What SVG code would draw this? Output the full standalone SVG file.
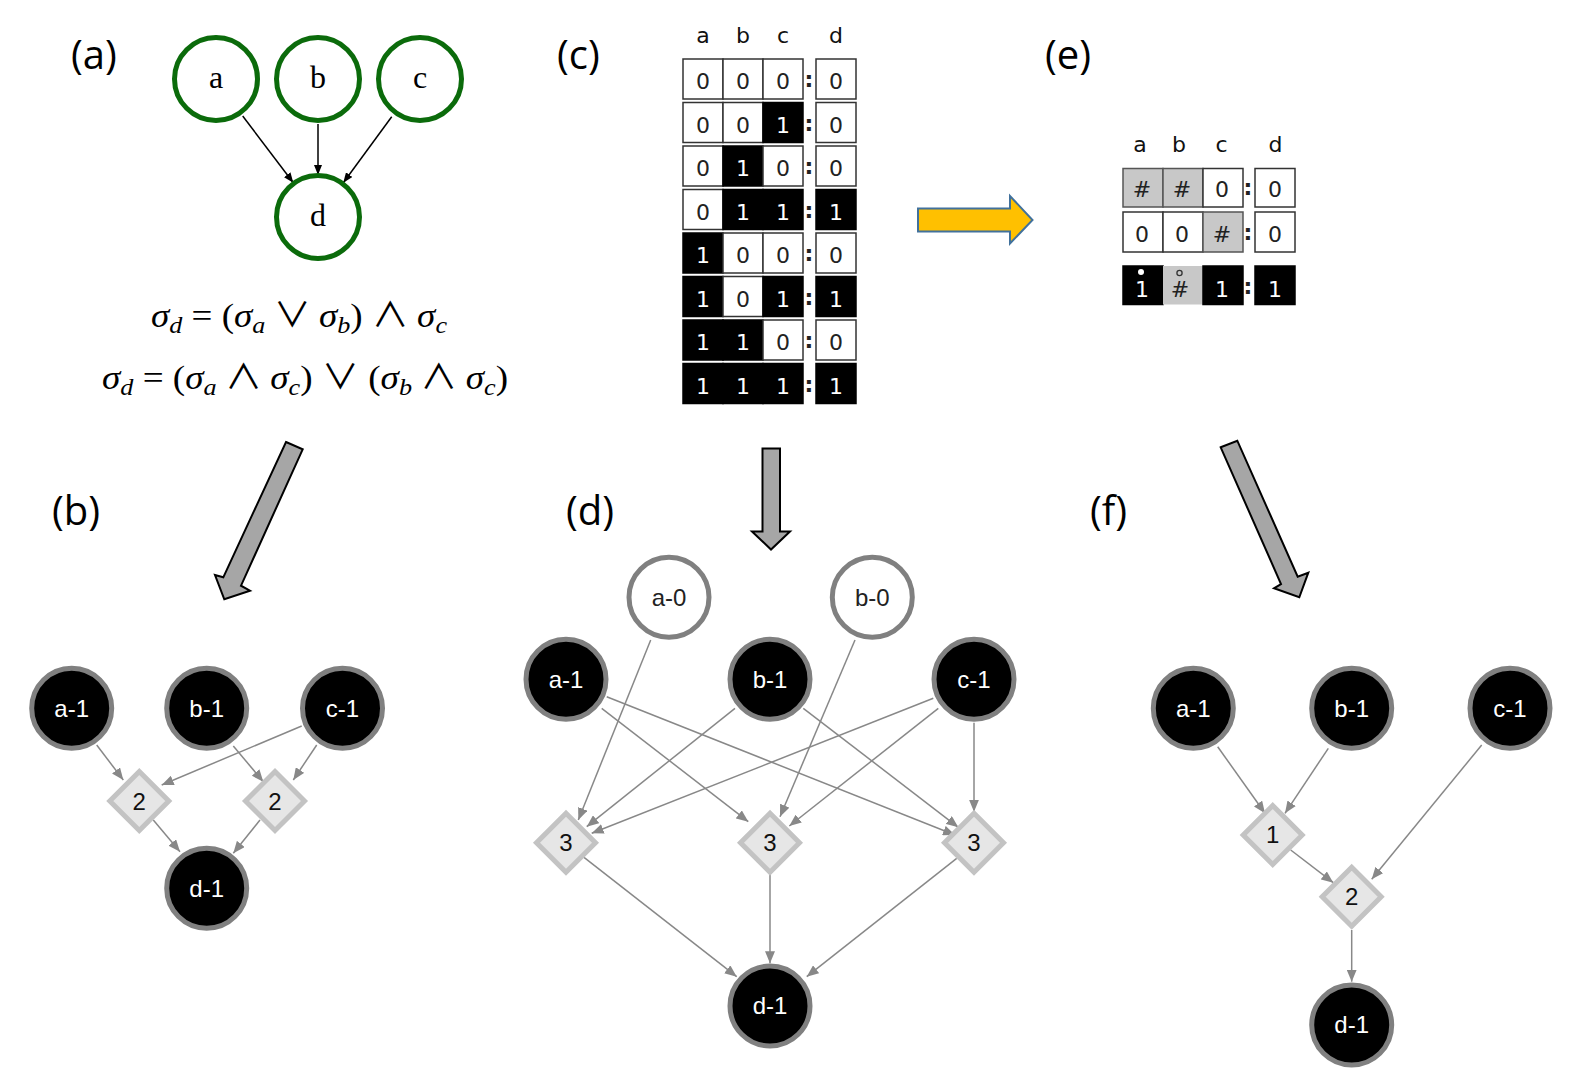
<svg xmlns="http://www.w3.org/2000/svg" width="1577" height="1081" viewBox="0 0 1577 1081">
<style>
.lbl{font-family:"Open Sans","Liberation Sans",sans-serif;font-size:40px;fill:#000}
.gn{fill:#000;stroke:#808080;stroke-width:5}
.wn{fill:#fff;stroke:#808080;stroke-width:5}
.gt{font-family:"Liberation Sans",Arial,sans-serif;font-size:24px;fill:#fff;text-anchor:middle}
.wt{font-family:"Liberation Sans",Arial,sans-serif;font-size:24px;fill:#222;text-anchor:middle}
.dia{fill:#e6e6e6;stroke:#c3c3c3;stroke-width:5}
.dt{font-family:"Liberation Sans",Arial,sans-serif;font-size:24px;fill:#111;text-anchor:middle}
.e{stroke:#888;stroke-width:1.5;fill:none;marker-end:url(#ah)}
.ea{stroke:#000;stroke-width:1.5;fill:none;marker-end:url(#ahk)}
.gc{fill:#fff;stroke:#0b6b0b;stroke-width:5}
.gct{font-family:"Liberation Serif","Times New Roman",serif;font-size:32px;text-anchor:middle;fill:#000}
.m{font-family:"Liberation Serif","DejaVu Serif",serif;font-size:34px;fill:#000}
.i{font-style:italic}
.s{font-style:italic;font-size:24px}
.op{font-family:"Noto Sans CJK SC","DejaVu Serif",serif;font-weight:400}
.cw{fill:#fff;stroke:#333;stroke-width:1.5}
.cb{fill:#000;stroke:#000;stroke-width:1.5}
.cg{fill:#c8c8c8;stroke:#555;stroke-width:1.5}
.tt{font-family:"DejaVu Sans",sans-serif;font-size:22px;text-anchor:middle}
.tw{fill:#fff}
.tk{fill:#222}
.hd{font-family:"DejaVu Sans",sans-serif;font-size:22px;text-anchor:middle;fill:#111}
.col{font-family:"DejaVu Sans",sans-serif;font-size:22px;font-weight:bold;text-anchor:middle;fill:#222}
.big{fill:#a6a6a6;stroke:#000;stroke-width:2;stroke-linejoin:miter}
</style>
<defs>
<marker id="ah" markerUnits="userSpaceOnUse" markerWidth="12" markerHeight="10" refX="12" refY="5" orient="auto"><path d="M0,0 L12,5 L0,10 z" fill="#888"/></marker>
<marker id="ahk" markerUnits="userSpaceOnUse" markerWidth="10" markerHeight="8" refX="10" refY="4" orient="auto"><path d="M0,0 L10,4 L0,8 z" fill="#000"/></marker>
<polygon id="dia" class="dia" points="0,-29.5 29.5,0 0,29.5 -29.5,0"/>
</defs>

<g id="panel-labels">
<text class="lbl" x="71" y="69">(a)</text>
<text class="lbl" x="557" y="69">(c)</text>
<text class="lbl" x="1045" y="69">(e)</text>
<text class="lbl" x="52" y="525">(b)</text>
<text class="lbl" x="566" y="525">(d)</text>
<text class="lbl" x="1090" y="525">(f)</text>
</g>

<g id="connectors">
<path class="ea" d="M242.7,116 L293.3,182.7"/>
<path class="ea" d="M318,124 L318,175"/>
<path class="ea" d="M391.7,116.7 L343.3,182.7"/>

<path class="e" d="M96.7,745 L123.3,780"/>
<path class="e" d="M301.7,726 L161.7,785"/>
<path class="e" d="M233.3,746 L263.3,781.7"/>
<path class="e" d="M316.7,745 L293.3,780"/>
<path class="e" d="M153.3,820 L180,851.7"/>
<path class="e" d="M260,820 L233.3,853.3"/>

<path class="e" d="M650.7,640 L578.3,820"/>
<path class="e" d="M601.7,708.3 L748.3,821.7"/>
<path class="e" d="M606.7,696.7 L955,835"/>
<path class="e" d="M735,708.3 L586.7,826.7"/>
<path class="e" d="M803.3,708.3 L958.3,827.3"/>
<path class="e" d="M855,640 L780,816.7"/>
<path class="e" d="M933.3,698.3 L591.7,833.3"/>
<path class="e" d="M938.3,708.3 L789.3,826"/>
<path class="e" d="M974,722.7 L974,811.7"/>
<path class="e" d="M584,857.3 L736.7,976.7"/>
<path class="e" d="M770,873.3 L770,963.3"/>
<path class="e" d="M956.7,858.3 L806.7,976.7"/>

<path class="e" d="M1217.7,746.7 L1265,813.3"/>
<path class="e" d="M1328.3,748.3 L1285,813.3"/>
<path class="e" d="M1481.7,745 L1371.7,879.3"/>
<path class="e" d="M1290.7,850 L1333.3,882.7"/>
<path class="e" d="M1351.7,930 L1351.7,981.7"/>
</g>

<g id="big-arrows">
<polygon class="big" points="286,442 302.7,449.3 241,585.7 250,590.7 224.3,599.3 215,575 223.3,577.3"/>
<polygon class="big" points="762.5,448.5 780,448.5 780,531.5 790,531.5 771,549.5 752,531.5 762.5,531.5"/>
<polygon class="big" points="1220.7,447.3 1237.3,440.7 1297.7,576.7 1308.3,572.7 1299.3,597.3 1274,588.3 1281,584"/>
<polygon points="918,208.5 1010,208.5 1010,196 1032.5,220 1010,243.5 1010,231.5 918,231.5" fill="#ffc000" stroke="#41719c" stroke-width="2"/>
</g>

<g id="a-a"><circle class="gc" cx="216" cy="79" r="41.5"/><text class="gct" x="216" y="88">a</text></g>
<g id="a-b"><circle class="gc" cx="318" cy="79" r="41.5"/><text class="gct" x="318" y="88">b</text></g>
<g id="a-c"><circle class="gc" cx="420" cy="79" r="41.5"/><text class="gct" x="420" y="88">c</text></g>
<g id="a-d"><circle class="gc" cx="318" cy="217" r="41.5"/><text class="gct" x="318" y="226">d</text></g>

<g id="formulas">
<text class="m" x="151" y="327" textLength="296" lengthAdjust="spacingAndGlyphs"><tspan class="i">σ</tspan><tspan class="s" dy="6">d</tspan><tspan dy="-6"> = (</tspan><tspan class="i">σ</tspan><tspan class="s" dy="6">a</tspan><tspan dy="-6" class="op"> ∨ </tspan><tspan class="i">σ</tspan><tspan class="s" dy="6">b</tspan><tspan dy="-6">) </tspan><tspan class="op">∧ </tspan><tspan class="i">σ</tspan><tspan class="s" dy="6">c</tspan></text>
<text class="m" x="102" y="389" textLength="406" lengthAdjust="spacingAndGlyphs"><tspan class="i">σ</tspan><tspan class="s" dy="6">d</tspan><tspan dy="-6"> = (</tspan><tspan class="i">σ</tspan><tspan class="s" dy="6">a</tspan><tspan dy="-6" class="op"> ∧ </tspan><tspan class="i">σ</tspan><tspan class="s" dy="6">c</tspan><tspan dy="-6">) </tspan><tspan class="op">∨</tspan><tspan> (</tspan><tspan class="i">σ</tspan><tspan class="s" dy="6">b</tspan><tspan dy="-6" class="op"> ∧ </tspan><tspan class="i">σ</tspan><tspan class="s" dy="6">c</tspan><tspan dy="-6">)</tspan></text>
</g>

<g id="table-c">
<text class="hd" x="703" y="43">a</text><text class="hd" x="743" y="43">b</text><text class="hd" x="783" y="43">c</text><text class="hd" x="836" y="43">d</text>
<g transform="translate(0,59)">
<rect class="cw" x="683" y="0" width="40" height="40"/><rect class="cw" x="723" y="0" width="40" height="40"/><rect class="cw" x="763" y="0" width="40" height="40"/><rect class="cw" x="816" y="0" width="40" height="40"/>
<text class="tt tk" x="703" y="30">0</text><text class="tt tk" x="743" y="30">0</text><text class="tt tk" x="783" y="30">0</text><text class="col" x="809" y="28">:</text><text class="tt tk" x="836" y="30">0</text>
</g>
<g transform="translate(0,102.5)">
<rect class="cw" x="683" y="0" width="40" height="40"/><rect class="cw" x="723" y="0" width="40" height="40"/><rect class="cb" x="763" y="0" width="40" height="40"/><rect class="cw" x="816" y="0" width="40" height="40"/>
<text class="tt tk" x="703" y="30">0</text><text class="tt tk" x="743" y="30">0</text><text class="tt tw" x="783" y="30">1</text><text class="col" x="809" y="28">:</text><text class="tt tk" x="836" y="30">0</text>
</g>
<g transform="translate(0,146)">
<rect class="cw" x="683" y="0" width="40" height="40"/><rect class="cb" x="723" y="0" width="40" height="40"/><rect class="cw" x="763" y="0" width="40" height="40"/><rect class="cw" x="816" y="0" width="40" height="40"/>
<text class="tt tk" x="703" y="30">0</text><text class="tt tw" x="743" y="30">1</text><text class="tt tk" x="783" y="30">0</text><text class="col" x="809" y="28">:</text><text class="tt tk" x="836" y="30">0</text>
</g>
<g transform="translate(0,189.5)">
<rect class="cw" x="683" y="0" width="40" height="40"/><rect class="cb" x="723" y="0" width="40" height="40"/><rect class="cb" x="763" y="0" width="40" height="40"/><rect class="cb" x="816" y="0" width="40" height="40"/>
<text class="tt tk" x="703" y="30">0</text><text class="tt tw" x="743" y="30">1</text><text class="tt tw" x="783" y="30">1</text><text class="col" x="809" y="28">:</text><text class="tt tw" x="836" y="30">1</text>
</g>
<g transform="translate(0,233)">
<rect class="cb" x="683" y="0" width="40" height="40"/><rect class="cw" x="723" y="0" width="40" height="40"/><rect class="cw" x="763" y="0" width="40" height="40"/><rect class="cw" x="816" y="0" width="40" height="40"/>
<text class="tt tw" x="703" y="30">1</text><text class="tt tk" x="743" y="30">0</text><text class="tt tk" x="783" y="30">0</text><text class="col" x="809" y="28">:</text><text class="tt tk" x="836" y="30">0</text>
</g>
<g transform="translate(0,276.5)">
<rect class="cb" x="683" y="0" width="40" height="40"/><rect class="cw" x="723" y="0" width="40" height="40"/><rect class="cb" x="763" y="0" width="40" height="40"/><rect class="cb" x="816" y="0" width="40" height="40"/>
<text class="tt tw" x="703" y="30">1</text><text class="tt tk" x="743" y="30">0</text><text class="tt tw" x="783" y="30">1</text><text class="col" x="809" y="28">:</text><text class="tt tw" x="836" y="30">1</text>
</g>
<g transform="translate(0,320)">
<rect class="cb" x="683" y="0" width="40" height="40"/><rect class="cb" x="723" y="0" width="40" height="40"/><rect class="cw" x="763" y="0" width="40" height="40"/><rect class="cw" x="816" y="0" width="40" height="40"/>
<text class="tt tw" x="703" y="30">1</text><text class="tt tw" x="743" y="30">1</text><text class="tt tk" x="783" y="30">0</text><text class="col" x="809" y="28">:</text><text class="tt tk" x="836" y="30">0</text>
</g>
<g transform="translate(0,363.5)">
<rect class="cb" x="683" y="0" width="40" height="40"/><rect class="cb" x="723" y="0" width="40" height="40"/><rect class="cb" x="763" y="0" width="40" height="40"/><rect class="cb" x="816" y="0" width="40" height="40"/>
<text class="tt tw" x="703" y="30">1</text><text class="tt tw" x="743" y="30">1</text><text class="tt tw" x="783" y="30">1</text><text class="col" x="809" y="28">:</text><text class="tt tw" x="836" y="30">1</text>
</g>
</g>

<g id="table-e">
<text class="hd" x="1140" y="152">a</text><text class="hd" x="1179" y="152">b</text><text class="hd" x="1221.5" y="152">c</text><text class="hd" x="1275.5" y="152">d</text>
<rect class="cg" x="1123" y="168.5" width="40" height="38.5"/><rect class="cg" x="1163" y="168.5" width="40" height="38.5"/><rect class="cw" x="1203" y="168.5" width="40" height="38.5"/><rect class="cw" x="1255" y="168.5" width="40" height="38.5"/>
<text class="tt tk" x="1142" y="197">#</text><text class="tt tk" x="1182" y="197">#</text><text class="tt tk" x="1222" y="197">0</text><text class="col" x="1248" y="195">:</text><text class="tt tk" x="1275" y="197">0</text>
<rect class="cw" x="1123" y="212" width="40" height="40"/><rect class="cw" x="1163" y="212" width="40" height="40"/><rect class="cg" x="1203" y="212" width="40" height="40"/><rect class="cw" x="1255" y="212" width="40" height="40"/>
<text class="tt tk" x="1142" y="241.5">0</text><text class="tt tk" x="1182" y="241.5">0</text><text class="tt tk" x="1222" y="241.5">#</text><text class="col" x="1248" y="239.5">:</text><text class="tt tk" x="1275" y="241.5">0</text>
<rect class="cb" x="1123" y="266" width="40" height="38.5"/><rect fill="#c8c8c8" x="1163" y="266" width="40" height="38.5"/><rect class="cb" x="1203" y="266" width="40" height="38.5"/><rect class="cb" x="1255" y="266" width="40" height="38.5"/>
<text class="tt tw" x="1142" y="297">1</text><circle cx="1141" cy="272" r="3" fill="#fff"/>
<text class="tt tk" x="1180" y="297">#</text><circle cx="1179.5" cy="273" r="2.6" fill="none" stroke="#333" stroke-width="1.3"/>
<text class="tt tw" x="1222" y="297">1</text><text class="col" x="1248" y="294">:</text><text class="tt tw" x="1275" y="297">1</text>
</g>

<g id="b-a1"><circle class="gn" cx="71.7" cy="708.3" r="40"/><text class="gt" x="71.7" y="716.5">a-1</text></g>
<g id="b-b1"><circle class="gn" cx="206.7" cy="708.3" r="40"/><text class="gt" x="206.7" y="716.5">b-1</text></g>
<g id="b-c1"><circle class="gn" cx="342.5" cy="708.3" r="40"/><text class="gt" x="342.5" y="716.5">c-1</text></g>
<g id="b-g1"><use href="#dia" x="139.3" y="801"/><text class="dt" x="139.3" y="809.5">2</text></g>
<g id="b-g2"><use href="#dia" x="275" y="801"/><text class="dt" x="275" y="809.5">2</text></g>
<g id="b-d1"><circle class="gn" cx="206.7" cy="888.3" r="40"/><text class="gt" x="206.7" y="896.5">d-1</text></g>

<g id="d-a0"><circle class="wn" cx="669" cy="597.3" r="40"/><text class="wt" x="669" y="605.5">a-0</text></g>
<g id="d-b0"><circle class="wn" cx="872.3" cy="597.3" r="40"/><text class="wt" x="872.3" y="605.5">b-0</text></g>
<g id="d-a1"><circle class="gn" cx="566" cy="679.3" r="40"/><text class="gt" x="566" y="687.5">a-1</text></g>
<g id="d-b1"><circle class="gn" cx="770" cy="679.3" r="40"/><text class="gt" x="770" y="687.5">b-1</text></g>
<g id="d-c1"><circle class="gn" cx="974" cy="679.3" r="40"/><text class="gt" x="974" y="687.5">c-1</text></g>
<g id="d-g1"><use href="#dia" x="566" y="842.7"/><text class="dt" x="566" y="851">3</text></g>
<g id="d-g2"><use href="#dia" x="770" y="842.7"/><text class="dt" x="770" y="851">3</text></g>
<g id="d-g3"><use href="#dia" x="974" y="842.7"/><text class="dt" x="974" y="851">3</text></g>
<g id="d-d1"><circle class="gn" cx="770" cy="1006" r="40"/><text class="gt" x="770" y="1014.2">d-1</text></g>

<g id="f-a1"><circle class="gn" cx="1193.3" cy="708.3" r="40"/><text class="gt" x="1193.3" y="716.5">a-1</text></g>
<g id="f-b1"><circle class="gn" cx="1351.7" cy="708.3" r="40"/><text class="gt" x="1351.7" y="716.5">b-1</text></g>
<g id="f-c1"><circle class="gn" cx="1510" cy="708.3" r="40"/><text class="gt" x="1510" y="716.5">c-1</text></g>
<g id="f-g1"><use href="#dia" x="1272.7" y="835"/><text class="dt" x="1272.7" y="843.3">1</text></g>
<g id="f-g2"><use href="#dia" x="1351.7" y="896.7"/><text class="dt" x="1351.7" y="905">2</text></g>
<g id="f-d1"><circle class="gn" cx="1351.7" cy="1025" r="40"/><text class="gt" x="1351.7" y="1033.2">d-1</text></g>
</svg>
